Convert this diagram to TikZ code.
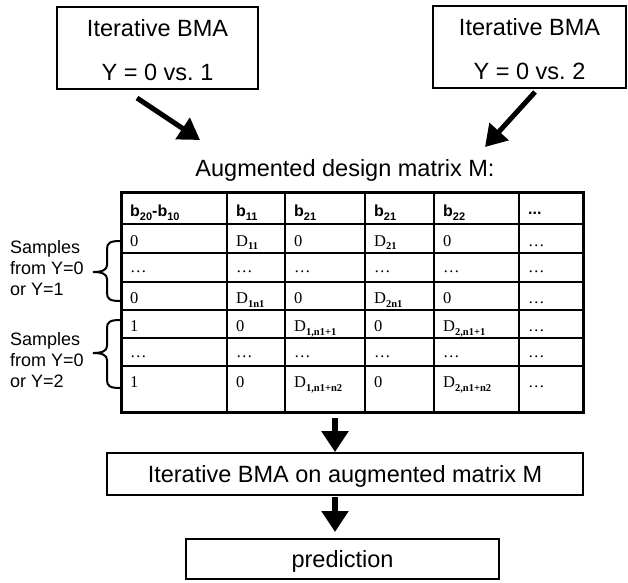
\documentclass[tikz,border=0pt]{standalone}
\usepackage{fontspec}
\setmainfont{Liberation Sans}
\newfontfamily\seriffam{Liberation Serif}
\usetikzlibrary{arrows.meta}
\newcommand\bigtext{\fontsize{23.5}{27}\selectfont}
\newcommand\labtext{\fontsize{18}{21}\selectfont}
\newcommand\hdtext{\fontsize{16}{18}\selectfont\bfseries}
\newcommand\bodytext{\fontsize{16.5}{18}\selectfont\seriffam}
\newcommand\hsub[1]{\raisebox{-4pt}{\fontsize{11}{12}\selectfont\bfseries #1}}
\newcommand\bsub[1]{\raisebox{-3.5pt}{\fontsize{10.5}{11}\selectfont\bfseries #1}}
\tikzset{
  box/.style={draw, line width=1.8pt, inner sep=0pt, rectangle},
  bigarrow/.style={line width=5pt, -{Triangle[length=21pt,width=25pt]}},
  vbigarrow/.style={line width=6pt, -{Triangle[length=21pt,width=26pt]}},
  grid/.style={line width=1.2pt},
  frame/.style={draw, line width=3pt, inner sep=0pt, rectangle},
  brace/.style={line width=2pt},
  hd/.style={anchor=base west, inner sep=0pt, font=\hdtext},
  bd/.style={anchor=base west, inner sep=0pt, font=\bodytext},
  lab/.style={anchor=base west, inner sep=0pt, font=\labtext},
  txt/.style={anchor=base, inner sep=0pt, font=\bigtext}
}
\begin{document}
\begin{tikzpicture}[x=1pt,y=-1pt]
\useasboundingbox (0,0) rectangle (628,582);
% top boxes
\node[box, minimum width=201pt, minimum height=82pt] (box1) at (157.5,48) {};
\node[txt] (box1a) at (157.5,36) {Iterative BMA};
\node[txt] (box1b) at (157.5,80) {Y = 0 vs.\ 1};
\node[box, minimum width=193pt, minimum height=82pt] (box2) at (529.5,47) {};
\node[txt] (box2a) at (529.5,35) {Iterative BMA};
\node[txt] (box2b) at (529.5,79) {Y = 0 vs.\ 2};
% arrows to title
\coordinate (a1s) at (137,98);
\coordinate (a1e) at (200,140);
\coordinate (a2s) at (535,92);
\coordinate (a2e) at (485,147);
\draw[bigarrow] (a1s) -- (a1e);
\draw[bigarrow] (a2s) -- (a2e);
\node[txt] (title) at (345,176) {Augmented design matrix M:};
% table
\node[frame, minimum width=462pt, minimum height=220pt] (tab) at (352,302) {};
\foreach \yy in {224,253,282,310,338,366} \draw[grid] (121,\yy) -- (583,\yy);
\foreach \xx in {227,285,365,434,519} \draw[grid] (\xx,192) -- (\xx,412);
% header
\node[hd] (h1) at (130,216) {b\hsub{20}-b\hsub{10}};
\node[hd] (h2) at (236,216) {b\hsub{11}};
\node[hd] (h3) at (294,216) {b\hsub{21}};
\node[hd] (h4) at (374,216) {b\hsub{21}};
\node[hd] (h5) at (443,216) {b\hsub{22}};
\node[hd] (h6) at (528,214) {...};
% body
\foreach \r/\y/\a/\b/\c/\d/\e/\f in {
  1/246/0/{D\bsub{11}}/0/{D\bsub{21}}/0/…,
  3/303.5/0/{D\bsub{1n1}}/0/{D\bsub{2n1}}/0/…,
  4/331.5/1/0/{D\bsub{1,n1+1}}/0/{D\bsub{2,n1+1}}/…,
  6/387.5/1/0/{D\bsub{1,n1+n2}}/0/{D\bsub{2,n1+n2}}/…}{
  \node[bd] (c\r-1) at (130,\y) {\a};
  \node[bd] (c\r-2) at (236,\y) {\b};
  \node[bd] (c\r-3) at (294,\y) {\c};
  \node[bd] (c\r-4) at (374,\y) {\d};
  \node[bd] (c\r-5) at (443,\y) {\e};
  \node[bd] (c\r-6) at (528,\y) {\f};
}
\foreach \r/\y in {2/272,5/357}{
  \foreach \cc/\xx in {1/130,2/236,3/294,4/374,5/443,6/528}
    \node[bd] (c\r-\cc) at (\xx,\y) {…};
}
% braces
\foreach \a/\m/\b in {241/272/301, 320/353/388}{
  \draw[brace] (120,\a) .. controls (110,\a) and (107,\a+2) .. (107,\a+8)
    -- (107,\m-7) .. controls (107,\m-2) and (102,\m) .. (93,\m)
    .. controls (102,\m) and (107,\m+2) .. (107,\m+7)
    -- (107,\b-8) .. controls (107,\b-2) and (110,\b) .. (120,\b);
}
\node[lab] (l1a) at (10,253) {Samples};
\node[lab] (l1b) at (10,274) {from Y=0};
\node[lab] (l1c) at (10,295) {or Y=1};
\node[lab] (l2a) at (10,345) {Samples};
\node[lab] (l2b) at (10,366) {from Y=0};
\node[lab] (l2c) at (10,387) {or Y=2};
% lower boxes
\node[box, minimum width=476pt, minimum height=42pt, text height=16.8pt, text depth=0pt, font=\bigtext] (iter) at (345,474) {Iterative BMA on augmented matrix M};
\node[box, minimum width=313pt, minimum height=40pt, text height=16.8pt, text depth=0pt, font=\bigtext] (pred) at (342.5,559) {prediction};
\coordinate (axis) at (335,0);
\draw[vbigarrow] (tab.south -| axis) ++(0,4) -- (iter.north -| axis);
\coordinate (b2s) at (335,497);
\coordinate (b2e) at (335,532);
\draw[vbigarrow] (b2s) -- (b2e);
\end{tikzpicture}
\end{document}
